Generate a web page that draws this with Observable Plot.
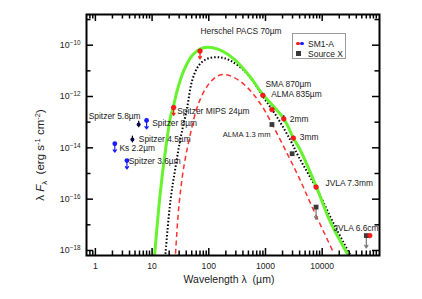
<!DOCTYPE html>
<html><head><meta charset="utf-8">
<script src="https://cdn.jsdelivr.net/npm/d3@7"></script>
<script src="https://cdn.jsdelivr.net/npm/@observablehq/plot@0.6"></script>
<style>
body{margin:0;background:#fff;font-family:"Liberation Sans",Arial,sans-serif;}
#wrap{position:relative;width:422px;height:299px;}
#legend{position:absolute;left:292px;top:33px;width:54px;height:26px;border:1px solid #9a9a9a;background:#fff;font-size:8.5px;color:#222;box-sizing:border-box;}
#legend .row{position:absolute;left:0;height:10px;line-height:10px;white-space:nowrap;}
#legend .dot{position:absolute;width:3.8px;height:3.8px;border-radius:50%;top:3.1px;}
#legend .sq{position:absolute;width:4.6px;height:4.6px;top:2.7px;left:3px;background:#3a3a3a;}
#legend .txt{position:absolute;left:15px;top:0;}
g[aria-label="y-axis tick label"] text{font-size:8.8px;}
g[aria-label="x-axis tick label"] text{font-size:8.6px;}
</style></head>
<body><div id="wrap"><div id="legend">
<div class="row" style="top:4.5px"><span class="dot" style="left:3px;background:#ff1a1a"></span><span class="dot" style="left:7px;background:#1a1aff"></span><span class="txt">SM1-A</span></div>
<div class="row" style="top:14.5px"><span class="sq"></span><span class="txt">Source X</span></div>
</div></div>
<script>
// ---- data (wavelength in µm, λFλ in erg s^-1 cm^-2) ----
const greenLambda = [11.0, 14.1, 17.2, 21.1, 23.6, 27.7, 36.2, 50.9, 71.4, 93.7, 141, 276, 543, 875, 2105, 3155, 4140, 7925, 14000, 27600];
const greenFlux   = [5.5e-19, 2.19e-16, 7.9e-15, 1.55e-13, 3.8e-13, 1.7e-12, 1.02e-11, 3.98e-11, 7.2e-11, 8.3e-11, 7.2e-11, 2.95e-11, 5.6e-12, 1.29e-12, 1.35e-13, 2.24e-14, 7.9e-15, 2.95e-16, 1.26e-17, 7.6e-19];

const blackLambda = [17.2, 21.1, 25.9, 31.7, 41.6, 50.9, 66.6, 93.7, 150, 241, 475, 875, 1607, 2760, 3865, 8260, 17200, 31600];
const blackFlux   = [7.4e-19, 8.9e-17, 1.78e-15, 2.3e-14, 3.8e-13, 4.2e-12, 1.62e-11, 2.95e-11, 3.4e-11, 2.51e-11, 7.8e-12, 1.1e-12, 1.55e-13, 1.95e-14, 4.4e-15, 2.19e-16, 7.9e-18, 6.5e-19];

const redLambda = [25.9, 29.6, 36.2, 47.5, 62.4, 87.5, 122, 172, 276, 475, 817, 1400, 2415, 3865, 6665, 15800];
const redFlux   = [7.4e-19, 4.9e-17, 1.78e-15, 3.55e-14, 3.8e-13, 2.0e-12, 4.9e-12, 7.2e-12, 5.6e-12, 2.29e-12, 5.2e-13, 6.3e-14, 5.9e-15, 7.2e-16, 4.9e-17, 8.3e-19];

// SM1-A near-IR (Ks, Spitzer)
const irLambda = [2.2, 3.6, 4.5, 5.8, 8.0];
const irFlux   = [1.45e-14, 3.2e-15, 2.1e-14, 8.1e-14, 1.17e-13];
const irUpper  = [true, true, false, false, true];
const irErrLo  = [null, null, 1.55e-14, 6.0e-14, null];
const irErrHi  = [null, null, 2.85e-14, 1.09e-13, null];

// SM1-A far-IR / mm / cm
const smLambda = [24, 70, 900, 1300, 2100, 3100, 7800, 69000];
const smFlux   = [3.7e-13, 5.9e-11, 1.1e-12, 3.1e-13, 1.35e-13, 2.4e-14, 2.95e-16, 3.8e-18];
const smUpper  = [true, true, false, false, false, false, false, false];
const smErrLo  = [null, null, null, null, 1.03e-13, null, null, null];
const smErrHi  = [null, null, null, null, 1.77e-13, null, null, null];

// Source X
const sxLambda = [1300, 2950, 7800, 60000];
const sxFlux   = [8.1e-14, 5.9e-15, 4.9e-17, 3.8e-18];
const sxUpper  = [false, false, true, true];

// annotation labels (left edge / vertical middle of each text)
const labelText   = ["Herschel PACS 70µm", "Spitzer MIPS 24µm", "Spitzer 5.8µm", "Spitzer 8µm", "Spitzer 4.5µm", "Ks 2.2µm", "Spitzer 3.6µm", "SMA 870µm", "ALMA 835µm", "ALMA 1.3 mm", "2mm", "3mm", "JVLA 7.3mm", "JVLA 6.6cm"];
const labelLambda = [71.5, 27.8, 0.764, 10.05, 5.83, 2.66, 3.88, 1000, 1260, 176.6, 2685, 4030, 11430, 16030];
const labelFlux   = [3.5e-10, 2.75e-13, 1.7e-13, 9.1e-14, 2.2e-14, 9.8e-15, 3.0e-15, 2.9e-12, 1.2e-12, 3.2e-14, 1.35e-13, 2.5e-14, 4.0e-16, 7.6e-18];

const xMajor = [1, 10, 100, 1000, 10000];
const yMajor = [1e-18, 1e-16, 1e-14, 1e-12, 1e-10];
const yMinor = [1e-17, 1e-15, 1e-13, 1e-11, 1e-9];

// ---- build tables ----
const zip = (ls, fs, extra = {}) => ls.map((l, i) => {
  const o = {l, f: fs[i]};
  for (const k in extra) o[k] = extra[k][i];
  return o;
});
const green = zip(greenLambda, greenFlux);
const black = zip(blackLambda, blackFlux);
const red = zip(redLambda, redFlux);
const ir = zip(irLambda, irFlux, {up: irUpper, lo: irErrLo, hi: irErrHi});
const sm = zip(smLambda, smFlux, {up: smUpper, lo: smErrLo, hi: smErrHi});
const sx = zip(sxLambda, sxFlux, {up: sxUpper});
const labels = zip(labelLambda, labelFlux, {t: labelText});

const xMinor = [0.8, 0.9].concat(xMajor.flatMap(d => [2,3,4,5,6,7,8,9].map(k => d * k)));
const yFmt = d => "10|" + Math.round(Math.log10(d));

const W = 422, H = 299, mL = 86, mR = 43, mT = 14, mB = 44;
const fh = H - mT - mB, fw = W - mL - mR;
const tk = {stroke: "#000", strokeWidth: 1.5};

const plot = Plot.plot({
  width: W, height: H,
  marginLeft: mL, marginRight: mR, marginTop: mT, marginBottom: mB,
  style: {fontFamily: "'Liberation Sans', Arial, sans-serif", fontSize: "8.5px", color: "#222", background: "#fff", overflow: "visible"},
  x: {type: "log", domain: [0.697, 1.025e5], label: null},
  y: {type: "log", domain: [6.37e-19, 1.57e-9], label: null},
  marks: [
    // curves
    Plot.line(red, {x: "l", y: "f", stroke: "#ff3030", strokeWidth: 1.5, strokeDasharray: "5,3.5", strokeLinecap: "butt", curve: "catmull-rom", clip: true}),
    Plot.line(black, {x: "l", y: "f", stroke: "#000", strokeWidth: 2, strokeDasharray: "1.5,2", strokeLinecap: "butt", curve: "catmull-rom", clip: true}),
    Plot.line(green, {x: "l", y: "f", stroke: "#66f22e", strokeWidth: 3, curve: "catmull-rom", clip: true}),
    // error bars
    Plot.ruleX(ir.filter(d => d.lo), {x: "l", y1: "lo", y2: "hi", stroke: "#000", strokeWidth: 1.2}),
    Plot.ruleX(sm.filter(d => d.lo), {x: "l", y1: "lo", y2: "hi", stroke: "#000", strokeWidth: 1.2}),
    // upper-limit arrows
    Plot.arrow(sm.filter(d => d.up), {x: "l", y1: "f", y2: d => d.f * 0.5, stroke: "#ff1a1a", strokeWidth: 1.2, headLength: 4, headAngle: 70}),
    Plot.arrow(ir.filter(d => d.up), {x: "l", y1: "f", y2: d => d.f * 0.47, stroke: "#1a1aff", strokeWidth: 1.2, headLength: 4, headAngle: 70}),
    Plot.arrow(sx.filter(d => d.up), {x: "l", y1: "f", y2: d => d.f * 0.33, stroke: "#777", strokeWidth: 1.2, headLength: 4, headAngle: 60}),
    // points
    Plot.dot(ir.filter(d => d.up), {x: "l", y: "f", r: 2.4, fill: "#1a1aff"}),
    Plot.dot(ir.filter(d => !d.up), {x: "l", y: "f", r: 2, fill: "#06064a"}),
    Plot.dot(sx, {x: "l", y: "f", symbol: "square", r: 2.7, fill: "#3a3a3a"}),
    Plot.dot(sm, {x: "l", y: "f", r: 2.4, fill: "#ff1a1a", stroke: "#d00000", strokeWidth: 0.5}),
    // annotations
    Plot.text(labels, {x: "l", y: "f", text: "t", textAnchor: "start", fill: "#222", fontSize: d => d.t === "ALMA 1.3 mm" ? 7.6 : 8.4}),
    // inward ticks: bottom / top
    Plot.ruleX(xMajor, {x: d => d, insetTop: fh - 7, ...tk}),
    Plot.ruleX(xMinor, {x: d => d, insetTop: fh - 4.5, ...tk}),
    Plot.ruleX(xMajor, {x: d => d, insetBottom: fh - 7, ...tk}),
    Plot.ruleX(xMinor, {x: d => d, insetBottom: fh - 4.5, ...tk}),
    // inward ticks: left / right
    Plot.ruleY(yMajor, {y: d => d, insetRight: fw - 7, ...tk}),
    Plot.ruleY(yMinor, {y: d => d, insetRight: fw - 4.5, ...tk}),
    Plot.ruleY(yMajor, {y: d => d, insetLeft: fw - 7, ...tk}),
    Plot.ruleY(yMinor, {y: d => d, insetLeft: fw - 4.5, ...tk}),
    // tick labels
    Plot.axisX({anchor: "bottom", ticks: xMajor, tickSize: 0, tickPadding: 7, tickFormat: d => String(d), label: null}),
    Plot.axisY({anchor: "left", ticks: yMajor, tickSize: 0, tickPadding: 6, tickFormat: yFmt, label: null}),
    Plot.frame({stroke: "#000", strokeWidth: 2})
  ]
});

const wrap = document.getElementById("wrap");
wrap.insertBefore(plot, wrap.firstChild);

const svg = d3.select(plot);
// superscript exponents on the y tick labels
svg.selectAll('g[aria-label="y-axis tick label"] text').each(function() {
  const t = d3.select(this);
  const s = t.text();
  if (!s.includes("|")) return;
  const [base, exp] = s.split("|");
  t.text(null);
  t.append("tspan").text(base);
  t.append("tspan").attr("font-size", "6.4px").attr("dy", "-0.45em").text(exp.replace("-", "\u2212"));
});

// axis titles
svg.append("text").attr("x", 229).attr("y", 283).attr("text-anchor", "middle")
  .attr("font-size", 10.5).attr("fill", "#222")
  .text("Wavelength \u03BB\u00A0\u00A0(\u00B5m)");

const yt = svg.append("text").attr("transform", "translate(44,155) rotate(-90)").attr("text-anchor", "middle")
  .attr("font-size", 11.5).attr("fill", "#222");
yt.append("tspan").text("\u03BB ");
yt.append("tspan").attr("font-style", "italic").text("F");
yt.append("tspan").attr("font-size", 8).attr("dy", 2.5).text("\u03BB");
yt.append("tspan").attr("dy", -2.5).text("\u00A0\u00A0(erg s");
yt.append("tspan").attr("font-size", 7.5).attr("dy", -4).text("-1");
yt.append("tspan").attr("dy", 4).text(" cm");
yt.append("tspan").attr("font-size", 7.5).attr("dy", -4).text("-2");
yt.append("tspan").attr("dy", 4).text(")");
</script>
</body></html>
